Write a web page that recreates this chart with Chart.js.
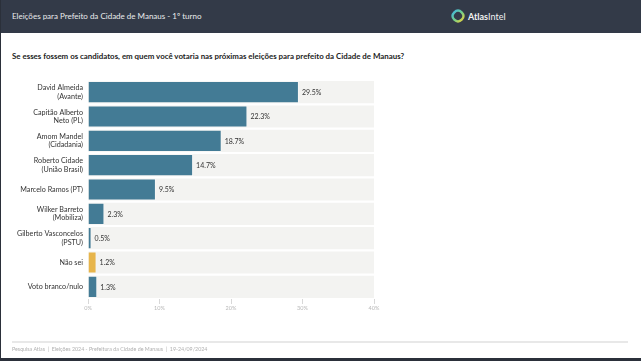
<!DOCTYPE html>
<html>
<head>
<meta charset="utf-8">
<script src="https://cdn.jsdelivr.net/npm/chart.js@4"></script>
<style>
  html, body { margin: 0; padding: 0; background: #fff; }
  body { width: 641px; height: 361px; position: relative; overflow: hidden; font-family: Lato, sans-serif; }
  .frame { position: absolute; left: 0; top: 0; width: 641px; height: 361px; border-left: 1px solid #2b303a; border-bottom: 3px solid #2b303a; box-sizing: border-box; }
  .header { position: absolute; left: 0; top: 0; width: 641px; height: 33px; background: #333a48; }
  .header .title { position: absolute; left: 12px; top: 11px; color: #e9eaec; font-size: 8px; }
  .logo { position: absolute; left: 451px; top: 9px; display: flex; align-items: center; }
  .logo span { color: #f2f2f2; font-size: 9px; margin-left: 3px; }
  .question { position: absolute; left: 12px; top: 51px; color: #222; font-size: 7.9px; font-weight: bold; }
  .sep { position: absolute; left: 12px; top: 341px; width: 616px; height: 2px; background: #e8e8e8; }
  .footer { position: absolute; left: 12px; top: 346px; color: #b0b0b0; font-size: 5.3px; }
  #chart { position: absolute; left: 0; top: 70px; }
</style>
</head>
<body>
<div class="header">
  <div class="title">Eleições para Prefeito da Cidade de Manaus - 1º turno</div>
  <div class="logo">
    <svg width="14" height="14" viewBox="0 0 14 14">
      <defs>
        <linearGradient id="g" x1="0" y1="0" x2="1" y2="1">
          <stop offset="0" stop-color="#3fb6e8"/>
          <stop offset="0.5" stop-color="#6fcf8a"/>
          <stop offset="1" stop-color="#f2d43a"/>
        </linearGradient>
      </defs>
      <path d="M7 1.5 C9.5 1.5 12.5 4.5 12.5 7 C12.5 9.5 9.5 12.5 7 12.5 C4.5 12.5 1.5 9.5 1.5 7 C1.5 4.5 4.5 1.5 7 1.5 Z" fill="none" stroke="url(#g)" stroke-width="2.4"/>
    </svg>
    <span><b>Atlas</b>Intel</span>
  </div>
</div>
<div class="question">Se esses fossem os candidatos, em quem você votaria nas próximas eleições para prefeito da Cidade de Manaus?</div>
<canvas id="chart" width="641" height="250"></canvas>
<div class="sep"></div>
<div class="footer">Pesquisa Atlas &nbsp;|&nbsp; Eleições 2024 - Prefeitura da Cidade de Manaus &nbsp;|&nbsp; 19-24/09/2024</div>
<div class="frame"></div>

<script>
const candidates = [
    ['David Almeida', '(Avante)'],
    ['Capitão Alberto', 'Neto (PL)'],
    ['Amom Mandel', '(Cidadania)'],
    ['Roberto Cidade', '(União Brasil)'],
    'Marcelo Ramos (PT)',
    ['Wilker Barreto', '(Mobiliza)'],
    ['Gilberto Vasconcelos', '(PSTU)'],
    'Não sei',
    'Voto branco/nulo'
];
const votes = [29.5, 22.3, 18.7, 14.7, 9.5, 2.3, 0.5, 1.2, 1.3];
const axisMax = 40;
const xTicks = [0, 10, 20, 30, 40];

const barColors = candidates.map(c => c === 'Não sei' ? '#e7b54b' : '#437b95');

// value labels right of each bar
const valueLabels = {
    id: 'valueLabels',
    afterDatasetsDraw(chart) {
        const ctx = chart.ctx;
        const meta = chart.getDatasetMeta(0);
        ctx.save();
        ctx.font = '7px Lato';
        ctx.fillStyle = '#333';
        ctx.textBaseline = 'middle';
        meta.data.forEach((bar, i) => {
            ctx.fillText(votes[i].toFixed(1) + '%', bar.x + 3, bar.y + 0.5);
        });
        ctx.restore();
    }
};

const ctx = document.getElementById('chart').getContext('2d');
const chart = new Chart(ctx, {
    type: 'bar',
    data: {
        labels: candidates,
        datasets: [
            {
                data: votes,
                backgroundColor: barColors,
                borderColor: 'rgba(255,255,255,0.35)',
                borderWidth: 1,
                grouped: false,
                order: 1,
                barPercentage: 0.91,
                categoryPercentage: 1
            },
            {
                data: candidates.map(() => axisMax),
                backgroundColor: '#f3f3f1',
                grouped: false,
                order: 2,
                barPercentage: 0.91,
                categoryPercentage: 1
            }
        ]
    },
    options: {
        indexAxis: 'y',
        responsive: false,
        animation: false,
        layout: { padding: { left: 0, right: 267, top: 10, bottom: 0 } },
        plugins: {
            legend: { display: false },
            tooltip: { enabled: false }
        },
        scales: {
            x: {
                min: 0,
                max: axisMax,
                afterBuildTicks(scale) {
                    scale.ticks = xTicks.map(v => ({ value: v }));
                },
                afterFit(scale) { scale.height = 21; },
                grid: { drawOnChartArea: false, drawTicks: true, tickLength: 5, color: '#d8d8d8' },
                border: { display: false },
                ticks: {
                    padding: 1,
                    color: '#b8b8b8',
                    font: { family: 'Lato', size: 5.5 },
                    callback: v => v + '%'
                }
            },
            y: {
                afterFit(scale) { scale.width = 88; },
                grid: { display: false, drawTicks: false },
                border: { display: false },
                ticks: {
                    padding: 5,
                    color: '#333',
                    font: { family: 'Lato', size: 7.2, lineHeight: 1.15 }
                }
            }
        }
    },
    plugins: [valueLabels]
});
</script>
</body>
</html>
